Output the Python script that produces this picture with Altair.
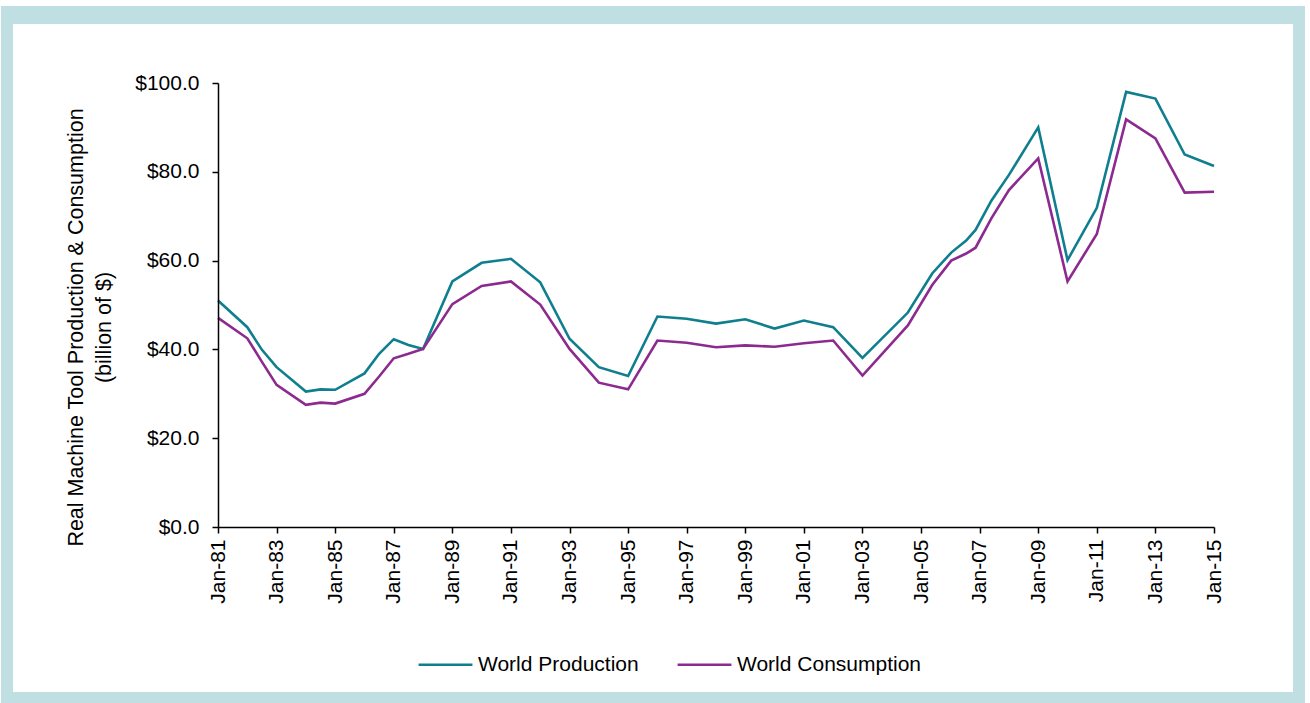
import altair as alt
import pandas as pd

years = [1981, 1982, 1982.5, 1983, 1984, 1984.5, 1985, 1986, 1986.5, 1987, 1987.5, 1988,
         1989, 1990, 1991, 1992, 1993, 1994, 1995, 1996, 1997, 1998, 1999, 2000, 2001, 2002, 2003,
         2004.55, 2005.38, 2006.03, 2006.54, 2006.86, 2007.4,
         2008, 2009, 2010, 2011, 2012, 2013, 2014, 2015]

production = [51.0, 45.0, 39.9, 36.0, 30.5, 31.0, 30.9, 34.6, 39.0, 42.3, 41.0, 40.1,
              55.3, 59.5, 60.4, 55.1, 42.4, 36.0, 34.0, 47.4, 46.9, 45.8, 46.8, 44.7, 46.5, 45.0, 38.1,
              48.3, 57.1, 61.8, 64.5, 66.9, 73.5,
              79.3, 90.0, 60.1, 71.9, 98.0, 96.5, 83.9, 81.3]

consumption = [47.1, 42.5, 37.2, 32.0, 27.5, 28.0, 27.8, 30.0, 33.9, 38.0, 39.0, 40.1,
               50.2, 54.3, 55.3, 50.1, 40.1, 32.5, 31.0, 42.0, 41.5, 40.5, 40.9, 40.6, 41.4, 42.0, 34.1,
               45.4, 54.5, 60.0, 61.6, 62.9, 69.5,
               75.9, 83.0, 55.3, 66.0, 91.8, 87.5, 75.3, 75.5]

series_names = ["World Production", "World Consumption"]
series_colors = ["#0f7f8e", "#8c2a8f"]
tick_years = list(range(1981, 2016, 2))
y_ticks = [0, 20, 40, 60, 80, 100]

rows = []
for yr, p, c in zip(years, production, consumption):
    rows.append({"year": yr, "value": p, "series": series_names[0]})
    rows.append({"year": yr, "value": c, "series": series_names[1]})
df = pd.DataFrame(rows)

FONT = "Liberation Sans"
W, H = 996, 444
PL, PT = 218, 83

one = pd.DataFrame({"a": [0]})
outer = alt.Chart(one).mark_rect(color="#bfdfe2").encode(
    x=alt.value(1 - PL), x2=alt.value(1305 - PL), y=alt.value(6 - PT), y2=alt.value(703 - PT))
inner = alt.Chart(one).mark_rect(color="white").encode(
    x=alt.value(13 - PL), x2=alt.value(1293 - PL), y=alt.value(24 - PT), y2=alt.value(692 - PT))

lines = alt.Chart(df).mark_line(strokeWidth=2.6).encode(
    x=alt.X("year:Q",
            scale=alt.Scale(domain=[1981, 2015], nice=False, zero=False),
            axis=alt.Axis(values=tick_years, title=None, labelAngle=-90,
                          labelExpr="'Jan-' + substring(toString(datum.value), 2)",
                          labelPadding=6, tickSize=6, labelFontSize=21, grid=False, zindex=2)),
    y=alt.Y("value:Q",
            scale=alt.Scale(domain=[0, 100], nice=False),
            axis=alt.Axis(values=y_ticks, format="$.1f", grid=False, tickSize=6,
                          labelPadding=13, labelFontSize=21, zindex=2,
                          title=["Real Machine Tool Production & Consumption", "(billion of $)"],
                          titleFontSize=21.5, titleFontWeight="normal", titleLineHeight=28,
                          titleX=-131, titleY=244)),
    color=alt.Color("series:N",
                    scale=alt.Scale(domain=series_names, range=series_colors),
                    sort=series_names,
                    legend=alt.Legend(title=None, orient="none", direction="horizontal",
                                      legendX=199, legendY=553, symbolType="stroke",
                                      symbolSize=2900, symbolStrokeWidth=2.5,
                                      labelFontSize=21, labelOffset=4, columnPadding=33,
                                      labelLimit=400, zindex=2)),
    order="year:Q",
)

chart = alt.layer(outer, inner, lines).properties(
    width=W, height=H,
    autosize=alt.AutoSizeParams(type="none"),
    padding={"left": PL, "top": PT, "right": 1310 - PL - W, "bottom": 703 - PT - H},
    background="white",
).configure_view(strokeWidth=0).configure_axis(
    domainColor="black", tickColor="black", labelColor="black", titleColor="black",
    domainWidth=1.5, tickWidth=1.5, labelFont=FONT, titleFont=FONT,
).configure_legend(labelFont=FONT, labelColor="black")

chart.save("out.html", embed_options={"renderer": "svg", "actions": False})
